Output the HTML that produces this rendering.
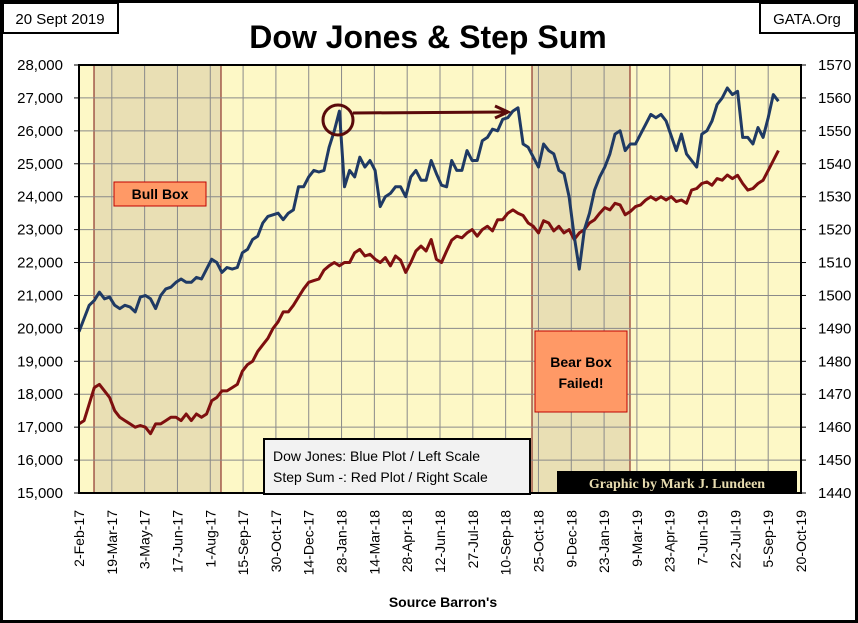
<!DOCTYPE html>
<html><head><meta charset="utf-8"><style>
body{margin:0;background:#fff;}
svg{display:block;font-family:"Liberation Sans",sans-serif;}
</style></head><body>
<svg id="chart" width="858" height="623" viewBox="0 0 858 623">
<rect x="1.5" y="1.5" width="855" height="620" fill="#fff" stroke="#000" stroke-width="3"/>
<rect x="79" y="65" width="722" height="428" fill="#fdf8c6"/>
<rect x="94" y="65" width="127" height="428" fill="#e9dfb4" stroke="#7a1010" stroke-width="1"/>
<rect x="532" y="65" width="98" height="428" fill="#e9dfb4" stroke="#7a1010" stroke-width="1"/>
<g id="grid"></g>
<g id="series"></g>
<rect x="79" y="65" width="722" height="428" fill="none" stroke="#000" stroke-width="2"/>
<g id="axes"></g>
<rect x="3" y="3" width="115" height="30" fill="#fff" stroke="#000" stroke-width="2"/>
<text x="60" y="24" font-size="15" text-anchor="middle">20 Sept 2019</text>
<rect x="760" y="3" width="95" height="30" fill="#fff" stroke="#000" stroke-width="2"/>
<text x="807" y="24" font-size="15" text-anchor="middle">GATA.Org</text>
<text x="428" y="48" font-size="32" font-weight="bold" text-anchor="middle">Dow Jones &amp; Step Sum</text>
<rect x="114" y="182" width="92" height="24" fill="#ff9966" stroke="#c00000" stroke-width="1"/>
<text x="160" y="199" font-size="14" font-weight="bold" text-anchor="middle">Bull Box</text>
<rect x="535" y="331" width="92" height="81" fill="#ff9966" stroke="#c00000" stroke-width="1"/>
<text x="581" y="367" font-size="14" font-weight="bold" text-anchor="middle">Bear Box</text>
<text x="581" y="388" font-size="14" font-weight="bold" text-anchor="middle">Failed!</text>
<circle cx="338" cy="120" r="15" fill="none" stroke="#5a0a0a" stroke-width="3"/>
<line x1="353" y1="113" x2="505" y2="112" stroke="#5a0a0a" stroke-width="3"/>
<path d="M495,106 L508,112 L495,118" fill="none" stroke="#5a0a0a" stroke-width="3"/>
<rect x="264" y="439" width="266" height="55" fill="#f2f2f2" stroke="#000" stroke-width="2"/>
<text x="273" y="461" font-size="14">Dow Jones: Blue Plot / Left Scale</text>
<text x="273" y="482" font-size="14">Step Sum -: Red Plot / Right Scale</text>
<rect x="557" y="471" width="240" height="22" fill="#000"/>
<text x="677" y="488" font-size="14" font-weight="bold" fill="#e8dcb0" text-anchor="middle" font-family="Liberation Serif,serif">Graphic by Mark J. Lundeen</text>
<text x="443" y="607" font-size="14" font-weight="bold" text-anchor="middle">Source Barron's</text>
</svg>
<script>
const weeks=[0,1,2,3,4,5,6,7,8,9,10,11,12,13,14,15,16,17,18,19,20,21,22,23,24,25,26,27,28,29,30,31,32,33,34,35,36,37,38,39,40,41,42,43,44,45,46,47,48,49,50,51,52,53,54,55,56,57,58,59,60,61,62,63,64,65,66,67,68,69,70,71,72,73,74,75,76,77,78,79,80,81,82,83,84,85,86,87,88,89,90,91,92,93,94,95,96,97,98,99,100,101,102,103,104,105,106,107,108,109,110,111,112,113,114,115,116,117,118,119,120,121,122,123,124,125,126,127,128,129,130,131,132,133,134,135,136,137];
const dowValues=[19900,20300,20700,20850,21100,20900,20950,20700,20600,20700,20650,20500,20950,21000,20900,20600,21000,21200,21250,21400,21500,21400,21400,21550,21500,21800,22100,22000,21700,21850,21800,21850,22300,22400,22700,22800,23200,23400,23450,23500,23300,23500,23600,24300,24300,24600,24800,24750,24800,25500,26000,26600,24300,24800,24600,25200,24900,25100,24800,23700,24000,24100,24300,24300,24000,24600,24800,24500,24500,25100,24700,24350,24300,25100,24800,24800,25400,25100,25100,25700,25800,26050,26000,26350,26400,26600,26700,25600,25500,25200,24900,25600,25400,25300,24800,24700,24000,22800,21800,23000,23500,24200,24600,24900,25300,25900,26000,25400,25600,25600,25900,26200,26500,26400,26500,26300,25850,25400,25900,25300,25100,24900,25900,26000,26300,26800,27000,27300,27100,27200,25800,25800,25600,26100,25800,26400,27100,26900];
const stepSumValues=[1461,1462,1467,1472,1473,1471,1469,1465,1463,1462,1461,1460,1460.5,1460,1458,1461,1461,1462,1463,1463,1462,1464,1462,1464,1463,1464,1468,1469,1471,1471,1472,1473,1477,1479,1480,1483,1485,1487,1490,1492,1495,1495,1497,1499.5,1502,1504,1504.5,1505,1507.7,1509,1510,1509,1510,1510,1513,1514,1512,1512.5,1511,1510,1511.5,1509,1512,1510.7,1507,1510,1513.5,1515,1513.5,1517,1511,1510,1513.5,1516.8,1518,1517.5,1519,1520,1518,1520,1521,1519.6,1523,1523,1525,1526,1525,1524.3,1522,1521,1519,1522.7,1522,1519.6,1521,1519,1520,1517,1519,1520,1522,1523,1525,1526.7,1526,1528,1527.5,1524.5,1525.5,1527,1527.5,1529,1530,1529,1530,1529,1530,1528.5,1529,1528,1532,1532.5,1534,1534.5,1533.5,1535.5,1535,1536.6,1535.5,1536.5,1534,1532,1532.5,1534,1535,1538,1541,1544];
const xTickLabels=["2-Feb-17","19-Mar-17","3-May-17","17-Jun-17","1-Aug-17","15-Sep-17","30-Oct-17","14-Dec-17","28-Jan-18","14-Mar-18","28-Apr-18","12-Jun-18","27-Jul-18","10-Sep-18","25-Oct-18","9-Dec-18","23-Jan-19","9-Mar-19","23-Apr-19","7-Jun-19","22-Jul-19","5-Sep-19","20-Oct-19"];
const leftTicks=[15000,16000,17000,18000,19000,20000,21000,22000,23000,24000,25000,26000,27000,28000];
const rightTicks=[1440,1450,1460,1470,1480,1490,1500,1510,1520,1530,1540,1550,1560,1570];

const NS="http://www.w3.org/2000/svg";
const X0=79,X1=801,Y0=65,Y1=493,DAYS=990,TICKDAYS=45;
function xDay(d){return X0+d*(X1-X0)/DAYS;}
function xWeek(w){return xDay(w*7);}
function yLeft(v){return Y1-(v-15000)/(28000-15000)*(Y1-Y0);}
function yRight(v){return Y1-(v-1440)/(1570-1440)*(Y1-Y0);}
function mk(tag,attrs,parent){const e=document.createElementNS(NS,tag);for(const k in attrs)e.setAttribute(k,attrs[k]);parent.appendChild(e);return e;}
const grid=document.getElementById('grid'),axes=document.getElementById('axes'),series=document.getElementById('series');
leftTicks.forEach((v,i)=>{
  const y=yLeft(v);
  const g=mk('line',{x1:X0,x2:X1,y1:y,y2:y,stroke:'#8a8a8a','stroke-width':1},grid);
  
  
  const t=mk('text',{x:63,y:y+5,'font-size':15,'text-anchor':'end'},axes);
  t.textContent=v.toLocaleString('en-US');
  
  
  const tk=mk('line',{x1:X0-5,x2:X0,y1:y,y2:y,stroke:'#000'},axes);
  
  
});
rightTicks.forEach(v=>{
  const y=yRight(v);
  const t=mk('text',{x:818,y:y+5,'font-size':15},axes);
  t.textContent=v;
  
  
  const tk=mk('line',{x1:X1,x2:X1+5,y1:y,y2:y,stroke:'#000'},axes);
  
  
});
xTickLabels.forEach((lab,i)=>{
  const x=xDay(i*TICKDAYS);
  const g=mk('line',{x1:x,x2:x,y1:Y0,y2:Y1,stroke:'#8a8a8a','stroke-width':1},grid);
  
  
  const t=mk('text',{x:0,y:0,'font-size':14,'text-anchor':'end',transform:`translate(${x+5},510) rotate(-90)`},axes);
  t.textContent=lab;
  
  
});
function line(vals,yf,color,name){
  const d=vals.map((v,i)=>(i?'L':'M')+xWeek(weeks[i]).toFixed(1)+','+yf(v).toFixed(1)).join(' ');
  const p=mk('path',{d:d,fill:'none',stroke:color,'stroke-width':3,'stroke-linejoin':'round'},series);
  
  
}
line(stepSumValues,yRight,'#7e0f0f','step-sum-line');
line(dowValues,yLeft,'#1f3a64','dow-jones-line');
</script>
</body></html>
